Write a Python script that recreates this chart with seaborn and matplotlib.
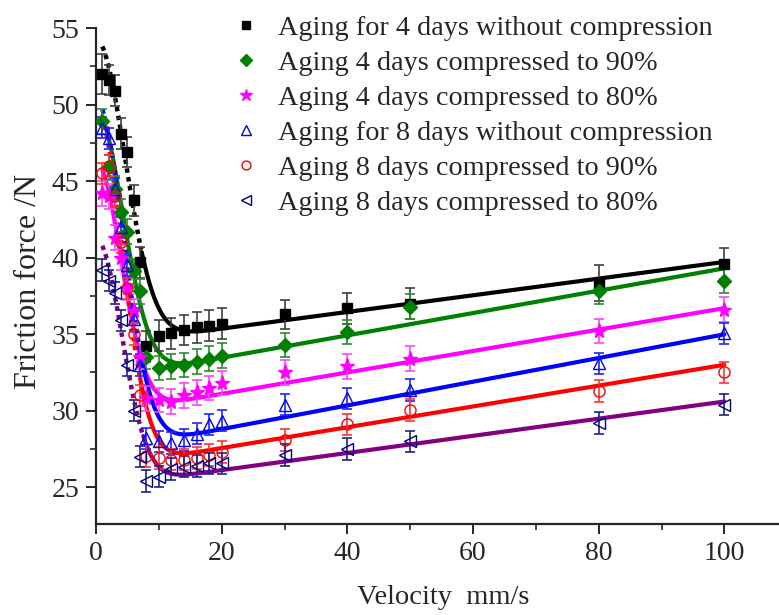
import numpy as np
import pandas as pd
import matplotlib
matplotlib.use("Agg")
import matplotlib.pyplot as plt
import seaborn as sns

# Sliding velocity (mm/s) at which friction was measured
velocity = [1, 2, 3, 4, 5, 6, 7, 8, 10, 12, 14, 16, 18, 20, 30, 40, 50, 80, 100]

labels = [
    "Aging for 4 days without compression",
    "Aging 4 days compressed to 90%",
    "Aging 4 days compressed to 80%",
    "Aging for 8 days without compression",
    "Aging 8 days compressed to 90%",
    "Aging 8 days compressed to 80%",
]

# Mean friction force (N)
force_4d_free = [52.0, 51.6, 50.9, 48.1, 46.9, 43.75, 39.7, 34.2, 34.9, 35.05, 35.27, 35.44, 35.55, 35.68, 36.3, 36.68, 37.0, 38.35, 39.6]
force_4d_90 = [48.9, 45.9, 44.5, 43.0, 41.7, 39.1, 37.8, 33.5, 32.8, 32.9, 33.0, 33.2, 33.4, 33.6, 34.3, 35.15, 36.8, 37.8, 38.5]
force_4d_80 = [44.2, 44.0, 41.3, 40.0, 38.0, 36.5, 33.5, 30.8, 30.7, 30.6, 31.0, 31.2, 31.5, 31.8, 32.5, 32.9, 33.4, 35.2, 36.6]
force_8d_free = [48.5, 47.8, 44.5, 42.0, 39.5, 36.0, 33.0, 28.2, 28.0, 27.9, 28.1, 28.5, 29.1, 29.35, 30.4, 30.8, 31.35, 33.1, 35.05]
force_8d_90 = [45.5, 46.0, 44.0, 41.0, 38.0, 35.0, 31.0, 27.05, 26.9, 26.8, 26.8, 26.9, 27.1, 27.3, 28.1, 29.1, 30.05, 31.3, 32.5]
force_8d_80 = [39.2, 38.5, 37.7, 35.9, 33.0, 30.0, 27.0, 25.4, 25.7, 26.2, 26.35, 26.4, 26.57, 26.57, 27.1, 27.5, 28.0, 29.2, 30.4]

# Standard deviation of the friction force (N)
err_4d_free = [1.3, 1.0, 1.0, 1.0, 1.0, 1.0, 1.0, 1.0, 1.0, 1.0, 1.0, 1.0, 1.0, 1.0, 0.95, 1.0, 1.0, 1.2, 1.0]
err_4d_90 = [0.8] * 19
err_4d_80 = [0.8] * 19
err_8d_free = [0.7] * 19
err_8d_90 = [0.7] * 19
err_8d_80 = [0.7] * 19

# Stribeck fit: F = Fc + sigma*v + (Fs - Fc) * exp(-(v/vs)**delta)
fit_Fc = [34.27, 32.0, 29.7, 27.25, 26.2, 25.0]
fit_Fs = [54.2, 49.5, 46.2, 50.2, 49.8, 41.2]
fit_vs = [6.5, 6.0, 5.6, 6.1, 5.8, 5.75]
fit_delta = [2.0, 2.0, 2.0, 2.0, 2.0, 2.0]
fit_sigma = [0.0545, 0.073, 0.07, 0.0774, 0.068, 0.056]

line_colors = ["#000000", "#008000", "#FF00FF", "#0000FF", "#FF0000", "#800080"]
marker_colors = ["#000000", "#008000", "#FF00FF", "#0000FF", "#FF0000", "#000080"]
err_colors = ["#404040", "#2E8B2E", "#FF44FF", "#2222FF", "#FF3333", "#202090"]
markers = ["s", "D", "*", "^", "o", "<"]
marker_sizes = [7.6, 7.2, 11.0, 9.0, 8.0, 8.8]
filled = [True, True, True, False, False, False]
# steep start of some fits is drawn with a dotted stroke
dotted_until = [7.2, 0.0, 0.0, 6.8, 7.0, 7.5]

forces = [force_4d_free, force_4d_90, force_4d_80, force_8d_free, force_8d_90, force_8d_80]
errors = [err_4d_free, err_4d_90, err_4d_80, err_8d_free, err_8d_90, err_8d_80]

sns.set_style("ticks")
plt.rcParams["font.family"] = ["Liberation Serif", "DejaVu Serif"]

fig = plt.figure(figsize=(7.79, 6.15), dpi=100)
ax = fig.add_axes([96 / 779, 1 - 524 / 615, (779 - 96) / 779, (524 - 28) / 615])

v_fit = np.linspace(1.0, 100.0, 1200)
for i in range(6):
    F_fit = fit_Fc[i] + fit_sigma[i] * v_fit + (fit_Fs[i] - fit_Fc[i]) * np.exp(-(v_fit / fit_vs[i]) ** fit_delta[i])
    fit_df = pd.DataFrame({"v": v_fit, "F": F_fit})
    steep = fit_df[fit_df["v"] <= dotted_until[i]]
    rest = fit_df[fit_df["v"] >= dotted_until[i]]
    if len(steep) > 1:
        sns.lineplot(data=steep, x="v", y="F", ax=ax, color=line_colors[i], lw=3.2,
                     linestyle=(0, (1.0, 1.0)), zorder=2, legend=False, estimator=None, sort=False)
    sns.lineplot(data=rest, x="v", y="F", ax=ax, color=line_colors[i], lw=3.0,
                 zorder=2, legend=False, estimator=None, sort=False)

for i in range(6):
    ax.errorbar(velocity, forces[i], yerr=errors[i], fmt="none", ecolor=err_colors[i],
                elinewidth=1.2, capsize=3.8, capthick=1.2, zorder=3)

handles = []
for i in range(6):
    df = pd.DataFrame({"v": velocity, "F": forces[i]})
    face = marker_colors[i] if filled[i] else "none"
    ax.plot(df["v"], df["F"], linestyle="none", marker=markers[i], ms=marker_sizes[i],
            mfc=face, mec=marker_colors[i], mew=1.0, zorder=4)
    handles.append(plt.Line2D([], [], linestyle="none", marker=markers[i],
                              ms=marker_sizes[i] * 0.8, mfc=face, mec=marker_colors[i],
                              mew=1.0, label=labels[i]))

ax.set_xlim(0, 108.7)
ax.set_ylim(22.6, 55)
ax.set_xticks([0, 20, 40, 60, 80, 100])
ax.set_xticks([10, 30, 50, 70, 90], minor=True)
ax.set_yticks([25, 30, 35, 40, 45, 50, 55])
ax.set_yticks(np.arange(27.5, 55, 5), minor=True)
for side in ["top", "right"]:
    ax.spines[side].set_visible(False)
for side in ["left", "bottom"]:
    ax.spines[side].set_linewidth(1.6)
ax.tick_params(which="major", direction="out", length=7, width=1.4, labelsize=20, pad=5)
ax.tick_params(which="minor", direction="out", length=4, width=1.2)

ax.set_xlabel("Velocity  mm/s", fontsize=20.5)
ax.xaxis.set_label_coords(0.508, -0.123)
ax.set_ylabel("Friction force /N", fontsize=23)
ax.yaxis.set_label_coords(-0.078, 0.49)

ax.legend(handles=handles, loc="upper left", bbox_to_anchor=(0.19, 1.037), frameon=False,
          fontsize=20.3, handletextpad=0.66, labelspacing=0.325, borderaxespad=0,
          borderpad=0.2, handlelength=1.0)

fig.savefig("out.png", dpi=100)
